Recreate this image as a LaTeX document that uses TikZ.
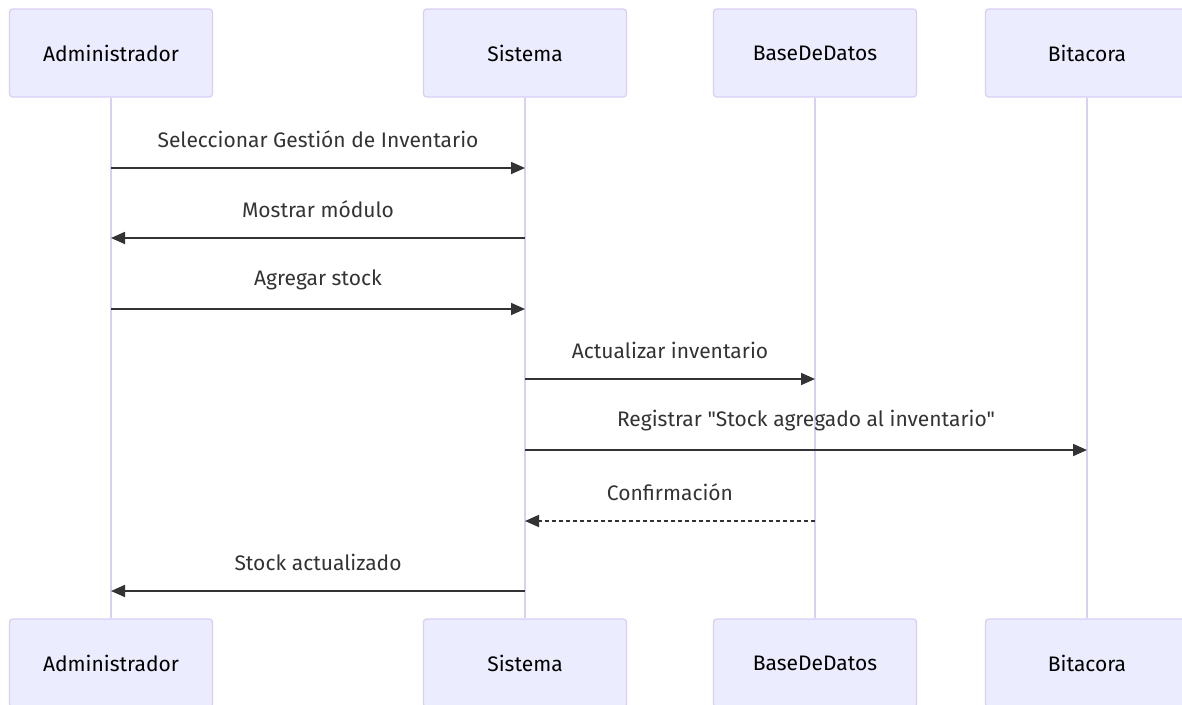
\documentclass[tikz,border=0pt]{standalone}
\usepackage{fontspec}
\setmainfont{Fira Sans}[Ligatures=TeXOff]
\usepackage{tikz}
\usetikzlibrary{positioning}
\usetikzlibrary{arrows.meta}

\definecolor{actfill}{HTML}{ECECFF}
\definecolor{actline}{HTML}{DACEF3}
\definecolor{msgcol}{HTML}{333333}

\begin{document}
\begin{tikzpicture}[x=1pt,y=-1pt,
  actor/.style={draw=actline, fill=actfill, line width=1.2pt, rounded corners=3pt,
    minimum width=203pt, minimum height=88pt, font=\fontsize{21}{25}\selectfont, text=black},
  lifeline/.style={draw=actline, line width=2pt},
  msg/.style={draw=msgcol, line width=1.8pt, -{Triangle[length=14pt,width=12pt]}},
  reply/.style={msg, dashed, dash pattern=on 4pt off 3pt},
  msglabel/.style={font=\fontsize{21}{25}\selectfont, text=msgcol, yshift=29pt}]

\useasboundingbox (0,0) rectangle (1182,704);

% Actors at the top
\node[actor] (admT) at (111,53) {Administrador};
\node[actor] (sisT) at (525,53) {Sistema};
\node[actor] (bdT) at (815,53) {BaseDeDatos};
\node[actor] (bitT) at (1087,53) {Bitacora};

% Actors at the bottom
\node[actor] (admB) at (111,663) {Administrador};
\node[actor] (sisB) at (525,663) {Sistema};
\node[actor] (bdB) at (815,663) {BaseDeDatos};
\node[actor] (bitB) at (1087,663) {Bitacora};

% Lifelines
\draw[lifeline] (admT) -- (admB);
\draw[lifeline] (sisT) -- (sisB);
\draw[lifeline] (bdT) -- (bdB);
\draw[lifeline] (bitT) -- (bitB);

% Message rows
\coordinate (m1) at (0,168);
\coordinate (m2) at (0,238);
\coordinate (m3) at (0,309);
\coordinate (m4) at (0,379);
\coordinate (m5) at (0,450);
\coordinate (m6) at (0,521);
\coordinate (m7) at (0,591);

% Messages
\draw[msg] (admT |- m1) -- node[msglabel] (l1) {Seleccionar Gestión de Inventario} (sisT |- m1);
\draw[msg] (sisT |- m2) -- node[msglabel] (l2) {Mostrar módulo} (admT |- m2);
\draw[msg] (admT |- m3) -- node[msglabel] (l3) {Agregar stock} (sisT |- m3);
\draw[msg] (sisT |- m4) -- node[msglabel] (l4) {Actualizar inventario} (bdT |- m4);
\draw[msg] (sisT |- m5) -- node[msglabel] (l5) {Registrar "Stock agregado al inventario"} (bitT |- m5);
\draw[reply] (bdT |- m6) -- node[msglabel] (l6) {Confirmación} (sisT |- m6);
\draw[msg] (sisT |- m7) -- node[msglabel] (l7) {Stock actualizado} (admT |- m7);

\end{tikzpicture}
\end{document}
